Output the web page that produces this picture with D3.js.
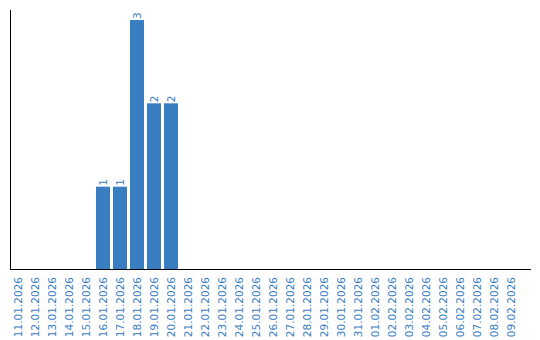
<!DOCTYPE html>
<meta charset="utf-8">
<head>
    <title>Daily counts</title>
</head>
<style>
 body { margin: 0; background: #fff; }
 .tick-label, .val-label {
     font-family: "DejaVu Sans", Verdana, sans-serif;
     font-size: 10.5px;
     fill: #3a7ec2;
 }
 .axis-line { stroke: #000; stroke-width: 1px; shape-rendering: crispEdges; }
 .bar { fill: #3a7ec2; }
</style>
<body>
    <div id="chart"></div>
    <script src="https://cdn.jsdelivr.net/npm/d3@7"></script>
    <script>

     var dates = ["11.01.2026","12.01.2026","13.01.2026","14.01.2026","15.01.2026",
                  "16.01.2026","17.01.2026","18.01.2026","19.01.2026","20.01.2026",
                  "21.01.2026","22.01.2026","23.01.2026","24.01.2026","25.01.2026",
                  "26.01.2026","27.01.2026","28.01.2026","29.01.2026","30.01.2026",
                  "31.01.2026","01.02.2026","02.02.2026","03.02.2026","04.02.2026",
                  "05.02.2026","06.02.2026","07.02.2026","08.02.2026","09.02.2026"];
     var counts = [0,0,0,0,0, 1,1,3,2,2, 0,0,0,0,0, 0,0,0,0,0, 0,0,0,0,0, 0,0,0,0,0];

     var width = 540, height = 340;

     var svg = d3.select("#chart").append("svg")
                 .attr("width", width)
                 .attr("height", height);

     var x = d3.scaleBand()
               .domain(dates)
               .range([9.5, 519.5])
               .paddingInner(3 / 17)
               .paddingOuter(1.5 / 17);

     var y = d3.scaleLinear()
               .domain([0, 3])
               .range([270, 20]);

     var data = dates.map(function (d, i) { return {date: d, n: counts[i]}; });

     // bars
     svg.append("g")
        .selectAll("rect")
        .data(data.filter(function (d) { return d.n > 0; }))
        .enter()
        .append("rect")
        .attr("class", "bar")
        .attr("x", function (d) { return x(d.date); })
        .attr("y", function (d) { return y(d.n); })
        .attr("width", x.bandwidth())
        .attr("height", function (d) { return y(0) - y(d.n); });

     // value labels, rotated like the dates
     svg.append("g")
        .selectAll("text")
        .data(data.filter(function (d) { return d.n > 0; }))
        .enter()
        .append("text")
        .attr("class", "val-label")
        .attr("transform", function (d) {
            return "translate(" + (x(d.date) + x.bandwidth() / 2) + "," + (y(d.n) - 1) + ") rotate(-90)";
        })
        .attr("dy", "0.35em")
        .text(function (d) { return d.n; });

     // axes lines
     svg.append("line").attr("class", "axis-line")
        .attr("x1", 10.5).attr("x2", 10.5)
        .attr("y1", 10).attr("y2", 270);
     svg.append("line").attr("class", "axis-line")
        .attr("x1", 10).attr("x2", 531)
        .attr("y1", 269.5).attr("y2", 269.5);

     // date labels
     svg.append("g")
        .selectAll("text")
        .data(dates)
        .enter()
        .append("text")
        .attr("class", "tick-label")
        .attr("text-anchor", "end")
        .attr("transform", function (d) {
            return "translate(" + (x(d) + x.bandwidth() / 2) + ",277) rotate(-90)";
        })
        .attr("dy", "0.35em")
        .text(function (d) { return d; });
    </script>
</body>
